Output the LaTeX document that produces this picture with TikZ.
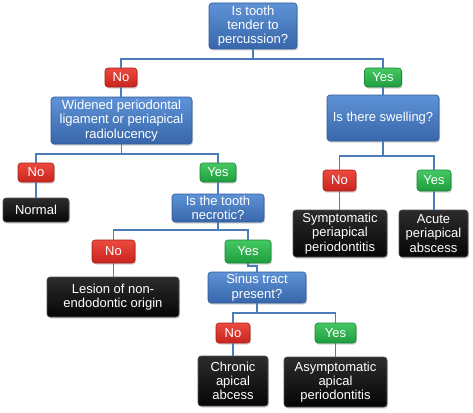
\documentclass[tikz,border=0pt]{standalone}
\usepackage{fontspec}
\setmainfont{Liberation Sans}
\usetikzlibrary{shadows}
\definecolor{bluetop}{HTML}{5E92D6}
\definecolor{bluebot}{HTML}{3866AA}
\definecolor{blueedge}{HTML}{2F5B98}
\definecolor{redtop}{HTML}{EC4A3F}
\definecolor{redbot}{HTML}{C9241E}
\definecolor{rededge}{HTML}{A81E1A}
\definecolor{greentop}{HTML}{45C862}
\definecolor{greenbot}{HTML}{1F9D3F}
\definecolor{greenedge}{HTML}{1A8535}
\definecolor{blacktop}{HTML}{2C2C2C}
\definecolor{blackbot}{HTML}{050505}
\definecolor{blackedge}{HTML}{555555}
\definecolor{linkc}{HTML}{4D7CBA}
\tikzset{
  base/.style={rounded corners=3pt, inner sep=0pt, align=center, text=white,
    font=\fontsize{13}{14.3}\selectfont,
    drop shadow={opacity=0.35, shadow xshift=1pt, shadow yshift=-1.5pt}},
  qbox/.style={base, draw=blueedge, line width=0.6pt, top color=bluetop, bottom color=bluebot},
  nobox/.style={base, draw=rededge, line width=0.6pt, top color=redtop, bottom color=redbot},
  yesbox/.style={base, draw=greenedge, line width=0.6pt, top color=greentop, bottom color=greenbot},
  rbox/.style={base, draw=blackedge, line width=0.6pt, top color=blacktop, bottom color=blackbot},
  link/.style={draw=linkc, line width=1.4pt},
}
\begin{document}
\begin{tikzpicture}[x=1pt,y=-1pt]
\useasboundingbox (0,0) rectangle (473,412);
% level 0
\node[qbox, minimum width=88pt, minimum height=46pt] (q1) at (253,26) {Is tooth\\tender to\\percussion?};
\node[nobox, minimum width=32pt, minimum height=19pt] (no1) at (121,77.5) {No};
\node[yesbox, minimum width=37pt, minimum height=19pt] (yes1) at (383,77.5) {Yes};
\node[qbox, minimum width=141pt, minimum height=47pt] (q2) at (121.5,120.5) {Widened periodontal\\ligament or periapical\\radiolucency};
\node[qbox, minimum width=112pt, minimum height=46pt] (q3) at (383,118) {Is there swelling?};
% left branch
\node[nobox, minimum width=36pt, minimum height=19pt] (no2) at (36,172.5) {No};
\node[yesbox, minimum width=36pt, minimum height=19pt] (yes2) at (218,172.5) {Yes};
\node[rbox, minimum width=66pt, minimum height=24pt] (normal) at (36,210) {Normal};
\node[qbox, minimum width=92pt, minimum height=28pt] (q4) at (218,208) {Is the tooth\\necrotic?};
% right branch
\node[nobox, minimum width=33pt, minimum height=21pt] (no3) at (339.5,180.5) {No};
\node[yesbox, minimum width=34pt, minimum height=21pt] (yes3) at (434,180.5) {Yes};
\node[rbox, minimum width=94pt, minimum height=47pt] (r2) at (340,233.5) {Symptomatic\\periapical\\periodontitis};
\node[rbox, minimum width=69pt, minimum height=47pt] (r3) at (433.5,233.5) {Acute\\periapical\\abscess};
% necrotic branch
\node[nobox, minimum width=43pt, minimum height=23pt] (no4) at (113.5,251.5) {No};
\node[yesbox, minimum width=46pt, minimum height=23pt] (yes4) at (248,251.5) {Yes};
\node[rbox, minimum width=132pt, minimum height=40pt] (r4) at (113,297) {Lesion of non-\\endodontic origin};
\node[qbox, minimum width=98pt, minimum height=31pt] (q5) at (257,287.5) {Sinus tract\\present?};
% sinus branch
\node[nobox, minimum width=34pt, minimum height=20pt] (no5) at (233,333) {No};
\node[yesbox, minimum width=41pt, minimum height=20pt] (yes5) at (335.5,333) {Yes};
\node[rbox, minimum width=70pt, minimum height=50pt] (r5) at (233,381) {Chronic\\apical\\abcess};
\node[rbox, minimum width=103pt, minimum height=50pt] (r6) at (335.5,382) {Asymptomatic\\apical\\periodontitis};
% junctions
\coordinate (h1) at (253,59);
\coordinate (h2) at (121.5,154);
\coordinate (h3) at (383,156);
\coordinate (h4) at (218,230);
\coordinate (h5) at (257,313);
\begin{scope}[on background layer/.try]
\end{scope}
% connectors
\path[link] (q1.south) -- (h1) -| (no1.north);
\path[link] (h1) -| (yes1.north);
\path[link] (no1.south) -- (q2.north -| no1.south);
\path[link] (yes1.south) -- (q3.north -| yes1.south);
\path[link] (q2.south) -- (h2) -| (no2.north);
\path[link] (h2) -| (yes2.north);
\path[link] (no2.south) -- (normal.north -| no2.south);
\path[link] (yes2.south) -- (q4.north -| yes2.south);
\path[link] (q3.south) -- (h3) -| (no3.north);
\path[link] (h3) -| (yes3.north);
\path[link] (no3.south) -- (r2.north -| no3.south);
\path[link] (yes3.south) -- (r3.north -| yes3.south);
\path[link] (q4.south) -- (h4) -| (no4.north);
\path[link] (h4) -| (yes4.north);
\path[link] (no4.south) -- (r4.north -| no4.south);
\path[link] (yes4.south) -- ++(0,2.5) -| (q5.north);
\path[link] (q5.south) -- (h5) -| (no5.north);
\path[link] (h5) -| (yes5.north);
\path[link] (no5.south) -- (r5.north -| no5.south);
\path[link] (yes5.south) -- (r6.north -| yes5.south);
\end{tikzpicture}
\end{document}
